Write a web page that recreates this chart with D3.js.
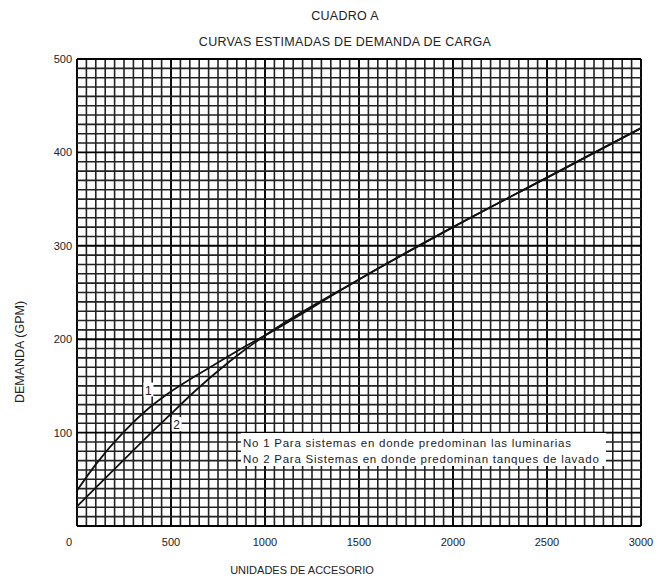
<!DOCTYPE html>
<html><head><meta charset="utf-8">
<script src="https://cdn.jsdelivr.net/npm/d3@7"></script>
<style>body{margin:0;background:#fff}text{font-family:"Liberation Sans",Arial,sans-serif}</style>
</head><body>
<svg id="c" width="659" height="580"></svg>
<script>
const titleLines = ["CUADRO A", "CURVAS ESTIMADAS DE DEMANDA DE CARGA"];
const xTitle = "UNIDADES DE ACCESORIO";
const yTitle = "DEMANDA (GPM)";
const xTicks = [0, 500, 1000, 1500, 2000, 2500, 3000];
const yTicks = [100, 200, 300, 400, 500];
const fixtureUnits = [0, 100, 250, 375, 500, 625, 750, 875, 1000, 1500, 2000, 2500, 3000];
const curve1 = [38, 66, 101, 125, 144, 160, 175, 190, 204, 264, 320, 373, 426];
const curve2 = [21, 41, 71, 96, 120, 144, 166, 186, 204, 264, 320, 373, 426];
const legendLines = ["No 1 Para sistemas en donde predominan las luminarias",
                     "No 2 Para Sistemas en donde predominan tanques de lavado"];

const svg = d3.select("#c");
const m = {l:77, r:641, t:59, b:526};
const x = d3.scaleLinear().domain([0,3000]).range([m.l, m.r]);
const y = d3.scaleLinear().domain([0,500]).range([m.b, m.t]);

// grid
const g = svg.append("g");
d3.range(0, 3001, 50).forEach(v => {
  const major = v % 500 === 0;
  g.append("line").attr("x1", x(v)).attr("x2", x(v)).attr("y1", y(0)).attr("y2", y(500))
    .attr("stroke", major ? "#000" : "#222").attr("stroke-width", major ? 1.9 : 1.6);
});
d3.range(0, 501, 10).forEach(v => {
  const major = v % 100 === 0;
  g.append("line").attr("y1", y(v)).attr("y2", y(v)).attr("x1", x(0)).attr("x2", x(3000))
    .attr("stroke", major ? "#000" : "#222").attr("stroke-width", major ? 1.9 : 1.6);
});

// curves
const line = d3.line().x((d,i) => x(fixtureUnits[i])).y(d => y(d)).curve(d3.curveMonotoneX);
[curve1, curve2].forEach(c => {
  svg.append("path").datum(c).attr("d", line).attr("fill", "none")
    .attr("stroke", "#111").attr("stroke-width", 1.8);
});

// curve labels
const lab = [{t:"1", fu:380, v:145}, {t:"2", fu:530, v:108}];
lab.forEach(d => {
  svg.append("rect").attr("x", x(d.fu)-5).attr("y", y(d.v)-8).attr("width", 10).attr("height", 14).attr("fill", "#fff");
  svg.append("text").attr("x", x(d.fu)).attr("y", y(d.v)+4).attr("text-anchor", "middle")
    .attr("font-size", 12).attr("fill", "#222").text(d.t);
});

// legend box
svg.append("rect").attr("x", 241).attr("y", 433).attr("width", 365).attr("height", 33).attr("fill", "#fff");
legendLines.forEach((t, i) => {
  svg.append("text").attr("x", 243).attr("y", 447 + i*16).attr("font-size", 11.5)
    .attr("letter-spacing", 0.75).attr("fill", "#222").text(t);
});

// axes labels
xTicks.forEach(v => {
  svg.append("text").attr("x", v === 0 ? x(v) - 8 : x(v)).attr("y", 546).attr("text-anchor", "middle")
    .attr("font-size", 11).attr("fill", "#222").text(v);
});
yTicks.forEach(v => {
  svg.append("text").attr("x", 72).attr("y", y(v) + 4).attr("text-anchor", "end")
    .attr("font-size", 11).attr("fill", "#222").text(v);
});
svg.append("text").attr("x", 302).attr("y", 574).attr("text-anchor", "middle")
  .attr("font-size", 11).attr("fill", "#222").text(xTitle);
svg.append("text").attr("transform", "translate(24,352) rotate(-90)").attr("text-anchor", "middle")
  .attr("font-size", 12.5).attr("fill", "#222").text(yTitle);
titleLines.forEach((t, i) => {
  svg.append("text").attr("x", 345).attr("y", 20 + i*26).attr("text-anchor", "middle")
    .attr("font-size", 12.5).attr("letter-spacing", 0.3).attr("fill", "#222").text(t);
});
</script>
</body></html>
